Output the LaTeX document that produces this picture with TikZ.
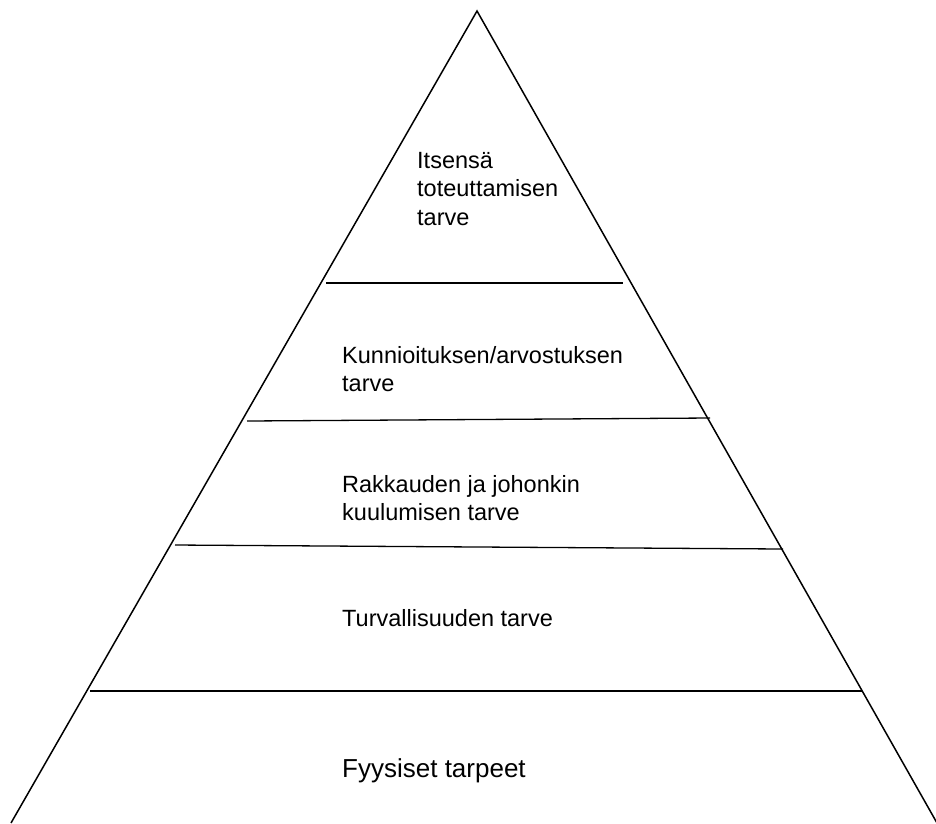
\documentclass[tikz,border=0pt]{standalone}
\usepackage{fontspec}
\setmainfont{Liberation Sans}
\begin{document}
\begin{tikzpicture}[x=1pt,y=-1pt,
  edge/.style={draw=black,line width=1.5pt},
  tier/.style={draw=black,line width=1.3pt},
  label/.style={anchor=base west,inner sep=0pt,font=\fontsize{23.5}{28.5}\selectfont},
  biglabel/.style={anchor=base west,inner sep=0pt,font=\fontsize{26}{31}\selectfont}]
  \useasboundingbox (0,0) rectangle (936,823);
  % outline of the pyramid
  \coordinate (apex) at (477,11);
  \coordinate (bl) at (11,823);
  \coordinate (br) at (937,823);
  \draw[edge,line join=miter] (bl) -- (apex) -- (br);
  % dividing lines between the levels
  \coordinate (d1l) at (326,283); \coordinate (d1r) at (623,283);
  \coordinate (d2l) at (247,421); \coordinate (d2r) at (710,418);
  \coordinate (d3l) at (175,545); \coordinate (d3r) at (783,549);
  \coordinate (d4l) at (90,691);  \coordinate (d4r) at (862,691);
  \draw[tier] (d1l) -- (d1r);
  \draw[tier] (d2l) -- (d2r);
  \draw[tier] (d3l) -- (d3r);
  \draw[tier] (d4l) -- (d4r);
  % level names
  \node[label] (l5) at (417,168) {\vtop{\hbox{Itsensä}\hbox{toteuttamisen}\hbox{tarve}}};
  \node[label] (l4) at (342,363) {\vtop{\hbox{Kunnioituksen/arvostuksen}\hbox{tarve}}};
  \node[label] (l3) at (342,492) {\vtop{\hbox{Rakkauden ja johonkin}\hbox{kuulumisen tarve}}};
  \node[label] (l2) at (342,626) {Turvallisuuden tarve};
  \node[biglabel] (l1) at (342,777) {Fyysiset tarpeet};
\end{tikzpicture}
\end{document}
